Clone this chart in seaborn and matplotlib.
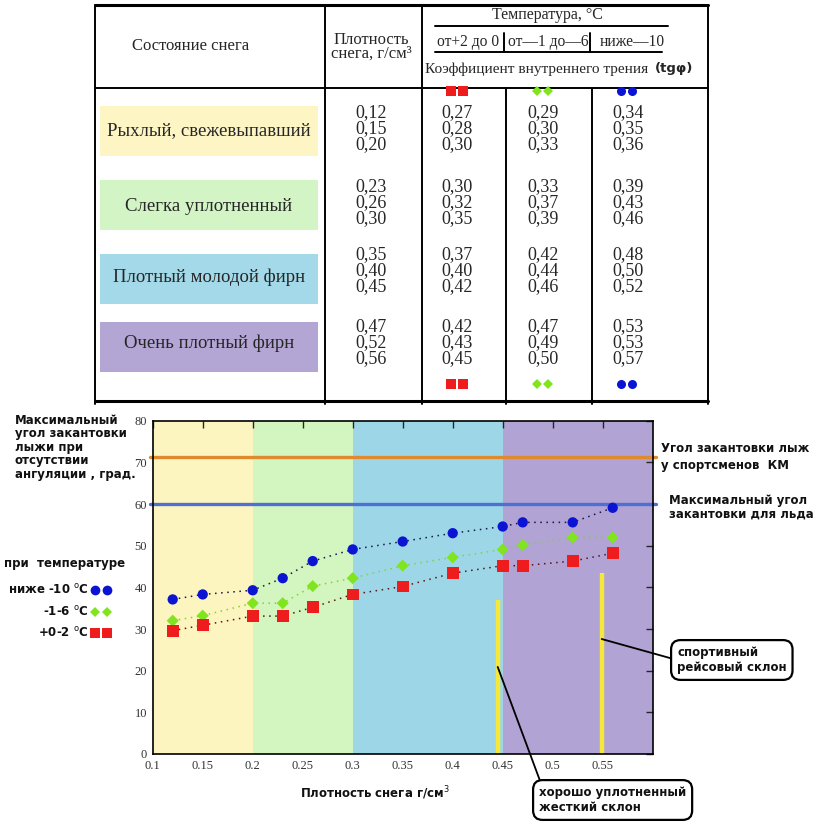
import matplotlib
matplotlib.use("Agg")
import matplotlib.pyplot as plt
from matplotlib.patches import Rectangle
import pandas as pd
import seaborn as sns

# table: snow state, density and friction coefficient (tg phi) by temperature
snow_states = ["Рыхлый, свежевыпавший", "Слегка уплотненный",
               "Плотный молодой фирн", "Очень плотный фирн"]
state_colors = ["#fdf6c4", "#d3f5c6", "#a3d9e8", "#b3a5d4"]
density = [0.12, 0.15, 0.20, 0.23, 0.26, 0.30, 0.35, 0.40, 0.45, 0.47, 0.52, 0.56]
tg_warm = [0.27, 0.28, 0.30, 0.30, 0.32, 0.35, 0.37, 0.40, 0.42, 0.42, 0.43, 0.45]
tg_mid = [0.29, 0.30, 0.33, 0.33, 0.37, 0.39, 0.42, 0.44, 0.46, 0.47, 0.49, 0.50]
tg_cold = [0.34, 0.35, 0.36, 0.39, 0.43, 0.46, 0.48, 0.50, 0.52, 0.53, 0.53, 0.57]
temp_ranges = ["от+2 до 0", "от—1 до—6", "ниже—10"]

# chart: max edging angle (deg) vs density
angle_cold = [37.1, 38.3, 39.3, 42.2, 46.3, 49.1, 51.0, 53.0, 54.6, 55.6, 55.6, 59.1]
angle_mid = [32.0, 33.2, 36.2, 36.2, 40.3, 42.2, 45.2, 47.2, 49.1, 50.2, 52.0, 52.0]
angle_warm = [29.6, 30.9, 33.1, 33.1, 35.2, 38.3, 40.2, 43.4, 45.2, 45.2, 46.3, 48.2]
band_edges = [0.1, 0.2, 0.3, 0.45, 0.6]
band_colors = ["#fdf5bf", "#d3f5bf", "#9dd7e7", "#b1a3d3"]
km_angle = 71.4
ice_angle = 60.0
slope_x = [0.445, 0.549]
slope_top = [37.0, 43.4]
x_ticks = [0.1, 0.15, 0.2, 0.25, 0.3, 0.35, 0.4, 0.45, 0.5, 0.55]
y_ticks = [0, 10, 20, 30, 40, 50, 60, 70, 80]

BLUE, GREEN, RED = "#0a14d2", "#80e41e", "#ee1c1c"

sns.set_style("white")
plt.rcParams["font.family"] = ["DejaVu Sans"]

W, H = 824, 833
fig = plt.figure(figsize=(W / 100, H / 100), dpi=100)

# overlay in pixel coordinates for table and free text
ov = fig.add_axes([0, 0, 1, 1], zorder=0)
ov.set_xlim(0, W)
ov.set_ylim(H, 0)
ov.axis("off")

serif = "Liberation Serif"
bold = dict(fontweight="bold", fontsize=8.5, color="#111111")

# ---- table ----
lk = dict(color="black", lw=1.4)
ov.plot([95, 708], [5, 5], color="black", lw=2.2)
ov.plot([95, 708], [401, 401], color="black", lw=2.2)
ov.plot([95, 708], [88, 88], **lk)
for xv in [95, 325, 422, 708]:
    ov.plot([xv, xv], [5, 404], **lk)
for xv in [506, 592]:
    ov.plot([xv, xv], [88, 404], **lk)
ov.plot([435, 668], [26, 26], **lk)
ov.plot([435, 662], [52, 52], **lk)
for xv in [504, 590]:
    ov.plot([xv, xv], [33, 52], **lk)

ov.text(191, 46, "Состояние снега", family=serif, fontsize=12, ha="center", va="center")
ov.text(371, 47, "Плотность\nснега, г/см³", family=serif, fontsize=12,
        ha="center", va="center", linespacing=0.85)
ov.text(547, 15, "Температура, °C", family=serif, fontsize=11.5, ha="center", va="center")
for xc, lab in zip([468, 548, 632], temp_ranges):
    ov.text(xc, 42, lab, family=serif, fontsize=11.2, ha="center", va="center")
ov.text(425, 69, "Коэффициент внутреннего трения", family=serif, fontsize=11,
        ha="left", va="center")
ov.text(655, 68, "(tgφ)", fontsize=9.5, fontweight="bold", ha="left", va="center")

row_mid = [129, 203, 271, 343]
box_mid = [131, 205, 279, 347]
text_mid = [131, 206, 277, 343]
for i, (state, col) in enumerate(zip(snow_states, state_colors)):
    ov.add_patch(Rectangle((100, box_mid[i] - 25), 218, 50, color=col, lw=0))
    ov.text(209, text_mid[i], state, family=serif, fontsize=13.5, ha="center", va="center")
    for j in range(3):
        k = i * 3 + j
        yy = row_mid[i] + (j - 1) * 16
        for xc, vals in zip([371, 457, 543, 628], [density, tg_warm, tg_mid, tg_cold]):
            ov.text(xc, yy, f"{vals[k]:.2f}".replace(".", ","), family=serif,
                    fontsize=13, ha="center", va="center")

for yy in [91, 384]:
    ov.plot([451, 463], [yy, yy], "s", color=RED, ms=6.5, mew=0)
    ov.plot([537, 548], [yy, yy], "D", color=GREEN, ms=5, mew=0)
    ov.plot([621, 632], [yy, yy], "o", color=BLUE, ms=6.5, mew=0)

# ---- left / right notes ----
ov.text(15, 447, "Максимальный\nугол закантовки\nлыжи при\nотсутствии\nангуляции , град.",
        ha="left", va="center", linespacing=1.05, **bold)
ov.text(4, 563, "при  температуре", ha="left", va="center", **bold)
leg = [("ниже -10 $^{\\mathrm{o}}$C", 590, "o", BLUE, 7),
       ("-1-6 $^{\\mathrm{o}}$C", 612, "D", GREEN, 5.5),
       ("+0-2 $^{\\mathrm{o}}$C", 633, "s", RED, 7.5)]
for lab, yy, mk, col, ms in leg:
    ov.text(89, yy, lab, ha="right", va="center", **bold)
    ov.plot([95, 107], [yy, yy], mk, color=col, ms=ms, mew=0)
ov.text(661, 457, "Угол закантовки лыж\nу спортсменов  КМ", ha="left", va="center",
        linespacing=1.45, **bold)
ov.text(669, 507, "Максимальный угол\nзакантовки для льда", ha="left", va="center",
        linespacing=1.05, **bold)
ov.text(375, 793, "Плотность снега г/см$^3$", ha="center", va="center", **bold)

# ---- chart ----
ax = fig.add_axes([152.7 / W, 1 - 754 / H, 500 / W, 333.3 / H], zorder=1)
for x0, x1, col in zip(band_edges[:-1], band_edges[1:], band_colors):
    ax.axvspan(x0, x1, color=col, lw=0, zorder=0)

ax.axhline(km_angle, xmin=-0.006, xmax=1.006, color="#e08a30", lw=2.4, clip_on=False, zorder=2)
ax.axhline(ice_angle, xmin=-0.006, xmax=1.006, color="#4e6fd4", lw=2.4, clip_on=False, zorder=2)
ax.vlines(slope_x, 0, slope_top, color="#f5e83a", lw=3.2, zorder=2)

df = pd.DataFrame({"density": density * 3,
                   "angle": angle_cold + angle_mid + angle_warm,
                   "temp": ["cold"] * 12 + ["mid"] * 12 + ["warm"] * 12})
styles = {"cold": ("o", BLUE, "#15154a", 55),
          "mid": ("D", GREEN, "#7ad82a", 38),
          "warm": ("s", RED, "#5a1414", 72)}
for name, (mk, col, lcol, size) in styles.items():
    sub = df[df["temp"] == name]
    sns.lineplot(data=sub, x="density", y="angle", ax=ax, color=lcol,
                 linestyle=(0, (1, 3)), lw=1.1, zorder=3)
    sns.scatterplot(data=sub, x="density", y="angle", ax=ax, marker=mk, color=col,
                    s=size, edgecolor="none", linewidth=0, zorder=4)

ax.set_xlim(0.1, 0.6)
ax.set_ylim(0, 80)
ax.set_xticks(x_ticks)
ax.set_xticklabels([f"{t:g}" for t in x_ticks])
ax.set_yticks(y_ticks)
ax.tick_params(direction="in", length=5, width=1, top=True, right=True,
               labelsize=9, labelcolor="#333333", pad=4)
ax.tick_params(axis="y", labelright=False)
for lbl in ax.get_xticklabels() + ax.get_yticklabels():
    lbl.set_family(serif)
for sp in ax.spines.values():
    sp.set_visible(True)
    sp.set_color("black")
    sp.set_linewidth(1.2)
ax.set_xlabel("")
ax.set_ylabel("")

box = dict(boxstyle="round,pad=0.5,rounding_size=0.8", fc="white", ec="black", lw=1.6)
ax.annotate("спортивный\nрейсовый склон", xy=(0.549, 27.6), xycoords="data",
            xytext=(677, H - 660), textcoords="figure pixels", ha="left", va="center",
            bbox=box, fontsize=8.5, fontweight="bold", color="#111111",
            arrowprops=dict(arrowstyle="-", color="black", lw=1.3, shrinkA=0, shrinkB=0,
                            relpos=(0, 0.5)), annotation_clip=False)
ax.annotate("хорошо уплотненный\nжесткий склон", xy=(0.445, 20.9), xycoords="data",
            xytext=(539, H - 800), textcoords="figure pixels", ha="left", va="center",
            bbox=box, fontsize=8.5, fontweight="bold", color="#111111",
            arrowprops=dict(arrowstyle="-", color="black", lw=1.3, shrinkA=0, shrinkB=0,
                            relpos=(0.02, 1.0)), annotation_clip=False)

fig.savefig("out.png", dpi=100, facecolor="white")
